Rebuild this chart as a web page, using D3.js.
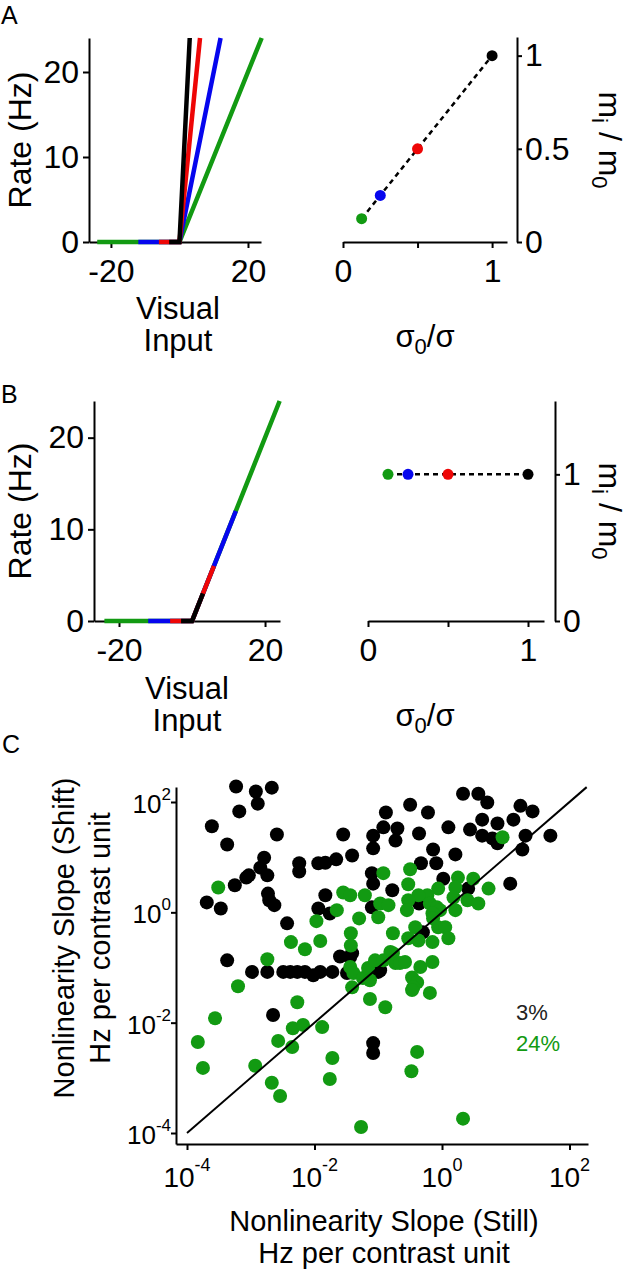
<!DOCTYPE html>
<html><head><meta charset="utf-8">
<script src="https://cdn.jsdelivr.net/npm/d3@7"></script>
<style>body{margin:0;background:#fff}</style>
</head><body>
<svg id="chart" width="630" height="1277"></svg>
<script>
// ---------------- DATA ----------------
// sigma0/sigma for the four curves (green, blue, red, black)
const sigmaRatio = [0.125, 0.25, 0.5, 1];
// Panel A: input-output curves (vertices) and normalized slopes
const inputA = [[-24, 0, 24], [-12, 0, 12], [-6, 0, 6], [-3, 0, 3]];
const rateA  = [[0, 0, 24], [0, 0, 24], [0, 0, 24], [0, 0, 24]];
const slopeRatioA = [0.125, 0.25, 0.5, 1];
// Panel B
const inputB = [[-24, 0, 24], [-12, 0, 12], [-6, 0, 6], [-3, 0, 3]];
const rateB  = [[0, 0, 24], [0, 0, 12], [0, 0, 6], [0, 0, 3]];
const slopeRatioB = [1, 1, 1, 1];
// Tick values
const rateTicks = [0, 10, 20];
const inputTicks = [-20, 20];
const ratioTicksA = [0, 0.5, 1];
const ratioTicksB = [0, 1];
const logTickExponents = [-4, -2, 0, 2];
// Panel C: log10 of nonlinearity slope [still, shift], 3% contrast (black)
const slope3pctLog10 = [
[-3.23,2.28],[-2.92,2.19],[-2.67,2.26],[-3.18,1.83],[-2.89,1.97],[-3.61,1.56],[-2.59,1.41],[-3.37,1.23],
[-2.79,0.99],[-2.85,0.81],[-3.03,0.67],[-2.74,0.67],[-3.07,0.63],[-3.25,0.49],[-3.69,0.18],[-3.47,0.07],
[-2.73,0.34],[-2.71,0.22],[-2.63,0.13],[-2.43,-0.20],[-2.24,0.89],[-2.24,0.74],[-1.94,0.89],[-1.83,0.90],
[-1.66,0.96],[-1.55,1.41],[-1.41,1.03],[-0.88,1.81],[-0.92,1.54],[-1.08,1.39],[-0.73,1.30],[-1.08,1.16],
[-1.10,0.71],[-1.08,0.52],[-0.78,0.40],[-1.83,0.31],[-1.94,0.07],[-1.76,-0.02],[-1.10,0.09],[-3.37,-0.87],
[-2.98,-1.08],[-2.74,-1.08],[-2.49,-1.08],[-2.38,-1.08],[-2.27,-1.08],[-2.15,-1.08],[-2.02,-1.14],[-1.91,-1.08],[-1.72,-1.08],
[-1.60,-0.80],[-1.41,-0.74],[-1.44,-0.81],[-1.49,-1.10],[-1.44,-1.08],[-1.00,-1.08],[-2.65,-1.86],[-1.08,-2.37],[-1.08,-2.55],
[0.33,2.15],[0.57,2.15],[0.71,1.99],[1.23,1.93],[1.42,1.83],[-0.50,1.95],[-0.22,1.81],[-0.70,1.52],
[-0.36,1.43],[0.10,1.54],[0.44,1.50],[0.63,1.68],[0.87,1.61],[1.12,1.68],[0.63,1.39],[0.79,1.34],
[0.87,1.25],[1.31,1.39],[1.70,1.39],[1.26,1.14],[-0.14,1.14],[-0.09,0.89],[-0.33,0.89],[0.21,1.05],
[0.02,0.61],[1.07,0.52],[-0.36,0.16],[0.41,0.43],[-0.30,-0.36],[-0.97,-1.05]
];
// 24% contrast (green)
const slope24pctLog10 = [
[-3.51,0.45],[-1.97,-0.16],[-1.55,0.36],[-1.44,0.31],[-1.65,0.04],[-1.21,0.31],[-1.30,-0.11],[-0.92,0.71],
[-0.97,0.16],[-0.84,0.13],[-1.00,-0.09],[-2.37,-0.54],[-2.15,-0.67],[-1.91,-0.52],[-1.43,-0.38],[-1.43,-0.60],
[-0.77,-0.38],[-2.74,-0.85],[-3.20,-1.34],[-2.27,-1.63],[-1.44,-0.99],[-1.39,-1.10],[-1.41,-1.36],[-1.24,-1.19],
[-1.13,-1.23],[-1.16,-1.01],[-1.05,-0.87],[-0.73,-0.92],[-0.66,-0.92],[-0.77,-0.74],[-1.13,-1.57],[-0.89,-1.72],[-3.56,-1.92],
[0.95,1.36],[-0.50,0.78],[-0.53,0.51],[-0.06,0.43],[0.25,0.63],[0.49,0.61],[0.21,0.45],[0.73,0.43],
[0.18,0.27],[-0.23,0.31],[-0.37,0.31],[-0.53,0.22],[-0.55,0.04],[-0.19,0.16],[-0.08,0.09],[-0.03,0.04],[-0.15,-0.02],
[-0.14,-0.11],[0.21,0.04],[0.40,0.22],[0.57,0.16],[-0.42,-0.27],[-0.53,-0.47],[-0.37,-0.51],[-0.15,-0.54],
[-0.06,-0.27],[0.05,-0.27],[0.10,-0.47],[-0.81,-0.72],[-0.92,-0.87],[-0.58,-0.90],[-0.34,-0.99],[-0.15,-0.90],
[-0.47,-1.18],[-0.39,-1.27],[-0.45,-1.36],[-0.19,-1.46],[-0.47,-1.41],
[-3.83,-2.35],[-3.75,-2.82],[-2.34,-2.10],[-2.18,-2.04],[-2.57,-2.33],[-2.35,-2.44],[-1.88,-2.08],
[-2.93,-2.78],[-2.67,-3.09],[-2.54,-3.33],[-1.72,-2.64],[-1.76,-3.02],[-1.27,-3.89],[-0.39,-2.53],[-0.48,-2.88],[0.33,-3.74]
];
const unityLine = [0.0001, 186];
const pctLabels = ["3%", "24%"];

// ---------------- STYLE ----------------
const FONT = "'Liberation Sans', Arial, Helvetica, sans-serif";
const curveColors = ["#129a12", "#0606ee", "#ee0606", "#000000"];
const groupColors = ["#000000", "#129a12"];
const svg = d3.select("#chart").attr("font-family", FONT);
const plain = d => String(d);

function styleAxis(g, fs) {
  g.attr("font-family", FONT).attr("font-size", fs);
  g.selectAll("path.domain").attr("stroke", "#000").attr("stroke-width", 2);
  g.selectAll(".tick line").attr("stroke", "#000").attr("stroke-width", 2);
  g.selectAll(".tick text").attr("fill", "#000");
}
function addText(x, y, str, fs, anchor) {
  return svg.append("text").attr("x", x).attr("y", y).attr("font-size", fs)
    .attr("text-anchor", anchor || "middle").attr("fill", "#000").text(str);
}
function sigmaLabel(x, y) {
  const t = svg.append("text").attr("x", x).attr("y", y).attr("font-size", 31)
    .attr("text-anchor", "middle").attr("fill", "#000");
  t.append("tspan").text("σ");
  t.append("tspan").attr("font-size", 22).attr("dy", 7).text("0");
  t.append("tspan").attr("dy", -7).text("/σ");
}
function mLabel(x, y) {
  const t = svg.append("text").attr("transform", `translate(${x},${y}) rotate(90)`)
    .attr("font-size", 32).attr("text-anchor", "middle").attr("fill", "#000");
  t.append("tspan").text("m");
  t.append("tspan").attr("font-size", 22).attr("dy", 7).text("i");
  t.append("tspan").attr("dy", -7).text(" / m");
  t.append("tspan").attr("font-size", 22).attr("dy", 7).text("0");
}
function rotLabel(x, y, str, fs) {
  svg.append("text").attr("transform", `translate(${x},${y}) rotate(-90)`)
    .attr("font-size", fs).attr("text-anchor", "middle").attr("fill", "#000").text(str);
}

// ---------------- PANEL LETTERS ----------------
addText(1, 24, "A", 25, "start");
addText(1, 403, "B", 25, "start");
addText(2, 753, "C", 25, "start");

// ---------------- INPUT-OUTPUT PANELS ----------------
function ioPanel(xr, yAxisX, yBase, yTop, domX, inputs, rates) {
  const x = d3.scaleLinear().domain(domX).range(xr);
  const y = d3.scaleLinear().domain([0, 24]).range([yBase, yTop]);
  svg.append("g").attr("transform", `translate(0,${yBase})`)
    .call(d3.axisBottom(x).tickValues(inputTicks).tickFormat(plain).tickSize(6).tickSizeOuter(0).tickPadding(11))
    .call(styleAxis, 32);
  svg.append("g").attr("transform", `translate(${yAxisX},0)`)
    .call(d3.axisLeft(y).tickValues(rateTicks).tickFormat(plain).tickSize(6).tickSizeOuter(0).tickPadding(4))
    .call(styleAxis, 32);
  const line = d3.line().x(d => x(d[0])).y(d => y(d[1]));
  inputs.forEach((xs, i) => {
    const pts = xs.map((v, j) => [v, rates[i][j]]);
    svg.append("path").attr("d", line(pts)).attr("fill", "none")
      .attr("stroke", curveColors[i]).attr("stroke-width", 4.5);
  });
  return x;
}
ioPanel([89, 261], 89, 242, 38, [-26.4, 23.8], inputA, rateA);
ioPanel([94, 280], 94, 621, 401, [-26.85, 24.1], inputB, rateB);
rotLabel(31, 140, "Rate (Hz)", 32);
rotLabel(31, 511, "Rate (Hz)", 32);
addText(178, 319, "Visual", 31); addText(178, 351, "Input", 31);
addText(187, 699, "Visual", 31); addText(187, 731, "Input", 31);

// ---------------- SLOPE-RATIO PANELS ----------------
function ratioPanel(xr, xAxisY, yAxisX, yr, yMax, yTicks, ratios) {
  const x = d3.scaleLinear().domain([0, 1.1]).range(xr);
  const y = d3.scaleLinear().domain([0, yMax]).range(yr);
  svg.append("g").attr("transform", `translate(0,${xAxisY})`)
    .call(d3.axisBottom(x).tickValues([0, 0.5, 1]).tickFormat(d => d === 0.5 ? "" : String(d))
      .tickSize(6).tickSizeOuter(0).tickPadding(11))
    .call(styleAxis, 32);
  svg.append("g").attr("transform", `translate(${yAxisX},0)`)
    .call(d3.axisRight(y).tickValues(yTicks).tickFormat(plain).tickSize(5).tickSizeOuter(0).tickPadding(3))
    .call(styleAxis, 32);
  const pts = sigmaRatio.map((s, i) => [s, ratios[i]]);
  svg.append("path").attr("d", d3.line().x(d => x(d[0])).y(d => y(d[1]))(pts))
    .attr("fill", "none").attr("stroke", "#000").attr("stroke-width", 2.5)
    .attr("stroke-dasharray", "5,4");
  svg.selectAll(null).data(pts).enter().append("circle")
    .attr("cx", d => x(d[0])).attr("cy", d => y(d[1])).attr("r", 5.5)
    .attr("fill", (d, i) => curveColors[i]);
}
ratioPanel([343, 507], 242, 517, [242, 37], 1.1, ratioTicksA, slopeRatioA);
ratioPanel([368, 544], 621, 555, [621, 401], 1.5, ratioTicksB, slopeRatioB);
sigmaLabel(425, 347); sigmaLabel(425, 726);
mLabel(599, 140); mLabel(599, 511);

// ---------------- PANEL C ----------------
const xC = d3.scaleLog().domain([6.72e-5, 195]).range([176, 588]);
const yC = d3.scaleLog().domain([6.32e-5, 187]).range([1144, 787]);
svg.append("g").attr("transform", "translate(0,1144)")
  .call(d3.axisBottom(xC).tickValues(logTickExponents.map(e => 10 ** e)).tickFormat("").tickSize(6).tickSizeOuter(0))
  .call(styleAxis, 27);
svg.append("g").attr("transform", "translate(176,0)")
  .call(d3.axisLeft(yC).tickValues(logTickExponents.map(e => 10 ** e)).tickFormat("").tickSize(5).tickSizeOuter(0))
  .call(styleAxis, 25);
logTickExponents.forEach(e => {
  const tx = svg.append("text").attr("x", xC(10 ** e)).attr("y", 1187)
    .attr("text-anchor", "middle").attr("font-size", 28).attr("fill", "#000");
  tx.append("tspan").text("10");
  tx.append("tspan").attr("font-size", 18).attr("dy", -16).text(e);
  const ty = svg.append("text").attr("x", 171).attr("y", yC(10 ** e) + 11)
    .attr("text-anchor", "end").attr("font-size", 26).attr("fill", "#000");
  ty.append("tspan").text("10");
  ty.append("tspan").attr("font-size", 17).attr("dy", -13).text(e);
});
[slope3pctLog10, slope24pctLog10].forEach((set, gi) => {
  svg.append("g").selectAll("circle").data(set).enter().append("circle")
    .attr("cx", d => xC(10 ** d[0])).attr("cy", d => yC(10 ** d[1])).attr("r", 7)
    .attr("fill", groupColors[gi]);
});
svg.append("line").attr("x1", xC(unityLine[0])).attr("y1", yC(unityLine[0]))
  .attr("x2", xC(unityLine[1])).attr("y2", yC(unityLine[1]))
  .attr("stroke", "#000").attr("stroke-width", 2);
addText(516, 1020, pctLabels[0], 22, "start").attr("fill", "#222");
addText(516, 1051, pctLabels[1], 22, "start").attr("fill", groupColors[1]);
addText(384, 1231, "Nonlinearity Slope (Still)", 29);
addText(384, 1263, "Hz per contrast unit", 29);
rotLabel(74, 938, "Nonlinearity Slope (Shift)", 29);
rotLabel(110, 938, "Hz per contrast unit", 29);
</script>
</body></html>
